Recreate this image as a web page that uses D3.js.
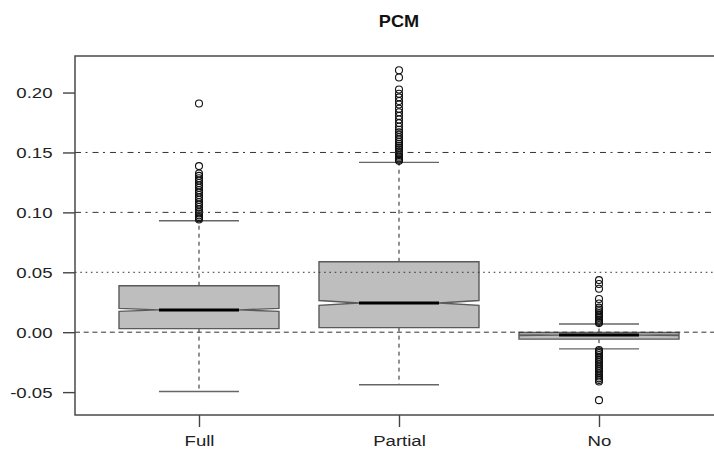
<!DOCTYPE html>
<html>
<head>
<meta charset="utf-8">
<script src="https://cdn.jsdelivr.net/npm/d3@7"></script>
<style>
	body { margin: 0; background: #fff; }
	svg { display: block; font-family: "Liberation Sans", Arial, sans-serif; }
</style>
</head>
<body>
<svg id="chart" width="714" height="454"></svg>
<script>
// box statistics, one entry per group
const categories = ["Full", "Partial", "No"];
const lowerWhisker = [-0.0495, -0.0439, -0.0139];
const q1 = [0.003, 0.0038, -0.0058];
const median = [0.0186, 0.0244, -0.0024];
const q3 = [0.0388, 0.0588, -0.0003];
const upperWhisker = [0.093, 0.1417, 0.0069];
const notchHalf = [0.00125, 0.002, 0.0004];

// outliers
const outliersFull = [0.1908, 0.1386, 0.1325, 0.1305, 0.1285, 0.1265, 0.1245, 0.1225, 0.1205,
	0.1185, 0.1165, 0.1145, 0.1125, 0.1105, 0.1085, 0.1065, 0.1045, 0.1025, 0.1005, 0.099,
	0.0975, 0.0962, 0.095, 0.094];
const outliersPartial = [0.2186, 0.2125, 0.2025, 0.199, 0.196, 0.193, 0.19, 0.1865, 0.1835,
	0.1805, 0.1775, 0.1745, 0.1715, 0.169, 0.1668, 0.1648, 0.1628, 0.1608, 0.159, 0.1572,
	0.1555, 0.1538, 0.1522, 0.1506, 0.1492, 0.1478, 0.1465, 0.1452, 0.144, 0.143];
const outliersNo = [0.0435, 0.0402, 0.0363, 0.0277, 0.024, 0.0205, 0.019, 0.0175, 0.016,
	0.0145, 0.013, 0.0118, 0.0106, 0.0095, 0.0085, 0.0076,
	-0.0148, -0.016, -0.0175, -0.019, -0.0205, -0.022, -0.0235, -0.025, -0.0265, -0.028,
	-0.0295, -0.031, -0.0325, -0.034, -0.0355, -0.037, -0.0385, -0.0398, -0.0412, -0.0567];
const outliers = [outliersFull, outliersPartial, outliersNo];

const yTicks = [-0.05, 0, 0.05, 0.10, 0.15, 0.20];
const yTickLabels = ["-0.05", "0.00", "0.05", "0.10", "0.15", "0.20"];
const gridLines = [
	{ value: 0.15, dash: "6,4.5,2,5" },
	{ value: 0.10, dash: "6,4.5,2,5" },
	{ value: 0.05, dash: "1.6,3.7" },
	{ value: 0.00, dash: "5,3.7" }
];

const svg = d3.select("#chart");
const plotLeft = 75, plotRight = 723, plotTop = 56, plotBottom = 415;
// the picture is stretched sideways, so the text is too
const stretch = 1.2;

const x = d3.scaleLinear().domain([0.38, 3.62]).range([plotLeft, plotRight]);
const y = d3.scaleLinear().domain([-0.0691, 0.2305]).range([plotBottom, plotTop]);
const halfBox = (x(1.4) - x(1));

// title
svg.append("text")
	.attr("transform", `translate(${(plotLeft + plotRight) / 2},27) scale(1.1,1)`)
	.attr("text-anchor", "middle")
	.attr("font-size", 16.5)
	.attr("font-weight", "bold")
	.attr("fill", "#111")
	.text("PCM");

// boxes
categories.forEach((name, i) => {
	let cx = x(i + 1);
	let g = svg.append("g");

	// whiskers
	g.append("line")
		.attr("x1", cx).attr("x2", cx)
		.attr("y1", y(q3[i])).attr("y2", y(upperWhisker[i]))
		.attr("stroke", "#222").attr("stroke-dasharray", "4,4");
	g.append("line")
		.attr("x1", cx).attr("x2", cx)
		.attr("y1", y(q1[i])).attr("y2", y(lowerWhisker[i]))
		.attr("stroke", "#222").attr("stroke-dasharray", "4,4");

	// caps
	[upperWhisker[i], lowerWhisker[i]].forEach(v => {
		g.append("line")
			.attr("x1", cx - halfBox / 2).attr("x2", cx + halfBox / 2)
			.attr("y1", y(v)).attr("y2", y(v))
			.attr("stroke", "#666").attr("stroke-width", 1.4);
	});

	// notched box
	let nHi = y(median[i] + notchHalf[i]);
	let nLo = y(median[i] - notchHalf[i]);
	let pts = [
		[cx - halfBox, y(q3[i])], [cx + halfBox, y(q3[i])], [cx + halfBox, nHi],
		[cx + halfBox / 2, y(median[i])], [cx + halfBox, nLo], [cx + halfBox, y(q1[i])],
		[cx - halfBox, y(q1[i])], [cx - halfBox, nLo], [cx - halfBox / 2, y(median[i])],
		[cx - halfBox, nHi]
	];
	g.append("path")
		.attr("d", d3.line()(pts) + "Z")
		.attr("fill", "#bebebe")
		.attr("stroke", "#5a5a5a")
		.attr("stroke-width", 1.4);

	// median
	g.append("line")
		.attr("x1", cx - halfBox / 2).attr("x2", cx + halfBox / 2)
		.attr("y1", y(median[i])).attr("y2", y(median[i]))
		.attr("stroke", "#000").attr("stroke-width", 3);

	// outliers
	g.selectAll("circle")
		.data(outliers[i])
		.join("circle")
		.attr("cx", cx)
		.attr("cy", d => y(d))
		.attr("r", 3.5)
		.attr("fill", "none")
		.attr("stroke", "#111")
		.attr("stroke-width", 1.1);
});

// reference lines across the plot
svg.selectAll(".grid")
	.data(gridLines)
	.join("line")
	.attr("class", "grid")
	.attr("x1", plotLeft).attr("x2", plotRight)
	.attr("y1", d => y(d.value)).attr("y2", d => y(d.value))
	.attr("stroke", "#333")
	.attr("stroke-width", 1)
	.attr("stroke-dasharray", d => d.dash);

// frame
svg.append("rect")
	.attr("x", plotLeft).attr("y", plotTop)
	.attr("width", plotRight - plotLeft).attr("height", plotBottom - plotTop)
	.attr("fill", "none")
	.attr("stroke", "#4a4a4a")
	.attr("stroke-width", 1.5);

// axes
let yAxis = svg.append("g")
	.attr("transform", `translate(${plotLeft},0)`)
	.call(d3.axisLeft(y).tickValues(yTicks).tickSize(12)
		.tickFormat((d, i) => yTickLabels[i]));
yAxis.select(".domain").remove();
yAxis.selectAll(".tick text")
	.attr("x", 0)
	.attr("transform", `translate(-22.5,0) scale(${stretch},1)`);

let xAxis = svg.append("g")
	.attr("transform", `translate(0,${plotBottom})`)
	.call(d3.axisBottom(x).tickValues([1, 2, 3]).tickSize(12).tickPadding(8)
		.tickFormat(d => categories[d - 1]));
xAxis.select(".domain").remove();
xAxis.selectAll(".tick text")
	.attr("transform", `scale(${stretch},1)`);

svg.selectAll(".tick line").attr("stroke", "#444").attr("stroke-width", 1.4);
svg.selectAll(".tick text")
	.attr("font-size", 15.5)
	.attr("fill", "#222")
	.attr("font-family", "Liberation Sans, Arial, sans-serif");
</script>
</body>
</html>
